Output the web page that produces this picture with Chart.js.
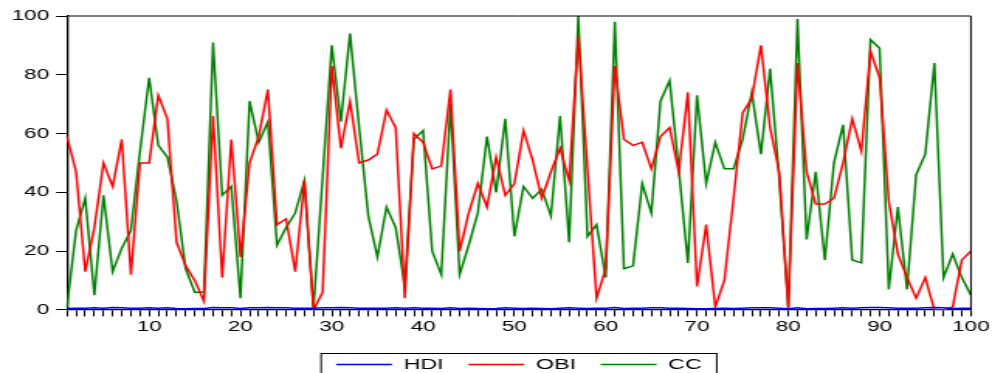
<!DOCTYPE html>
<html>
<head>
<meta charset="utf-8">
<script src="https://cdn.jsdelivr.net/npm/chart.js@4.4.1/dist/chart.umd.min.js"></script>
<style>
  html, body { margin: 0; padding: 0; background: #fff; }
</style>
</head>
<body>
<!-- drawn narrow, then stretched wide like the original export -->
<canvas id="myChart" width="640" height="373" style="width:992px;height:373px;display:block"></canvas>
<script>
var x_data = ['1','2','3','4','5','6','7','8','9','10','11','12','13','14','15','16','17','18','19','20',
  '21','22','23','24','25','26','27','28','29','30','31','32','33','34','35','36','37','38','39','40',
  '41','42','43','44','45','46','47','48','49','50','51','52','53','54','55','56','57','58','59','60',
  '61','62','63','64','65','66','67','68','69','70','71','72','73','74','75','76','77','78','79','80',
  '81','82','83','84','85','86','87','88','89','90','91','92','93','94','95','96','97','98','99','100'];
var x_ticks = ['10','20','30','40','50','60','70','80','90','100'];
var y_ticks = [0, 20, 40, 60, 80, 100];

var hdi = [0.5,0.6,0.6,0.7,0.6,0.8,0.7,0.6,0.6,0.7,
  0.6,0.7,0.5,0.4,0.5,0.5,0.8,0.7,0.7,0.5,
  0.7,0.7,0.8,0.7,0.7,0.6,0.6,0.6,0.7,0.7,
  0.8,0.7,0.6,0.6,0.6,0.6,0.7,0.6,0.7,0.6,
  0.6,0.5,0.7,0.5,0.6,0.5,0.4,0.5,0.7,0.6,
  0.5,0.6,0.5,0.4,0.6,0.7,0.6,0.5,0.6,0.6,
  0.8,0.5,0.6,0.6,0.7,0.7,0.6,0.6,0.5,0.4,
  0.4,0.5,0.6,0.5,0.6,0.7,0.7,0.7,0.6,0.4,
  0.7,0.4,0.5,0.5,0.6,0.7,0.6,0.7,0.8,0.8,
  0.7,0.6,0.6,0.6,0.7,0.8,0.7,0.5,0.6,0.6];
var obi = [59,47,13,28,50,42,58,12,50,50,
  73,65,23,15,10,3,66,11,58,18,
  50,59,75,29,31,13,44,0,6,83,
  55,71,50,51,53,68,62,4,60,57,
  48,49,75,20,33,43,35,52,39,43,
  61,51,38,47,55,44,93,48,4,14,
  83,58,56,57,48,59,62,47,74,8,
  29,1,10,38,67,72,90,62,47,0.6,
  84,47,36,36,38,50,65,54,88,79,
  37,19,11,4,11,0,0,1,17,20];
var cc = [1,27,38,5,39,13,21,27,54,79,
  56,52,37,14,6,6,91,39,42,4,
  71,57,64,22,28,33,44,0.5,45,90,
  64,94,62,32,18,35,28,8,58,61,
  20,12,70,12,22,33,59,40,65,25,
  42,38,41,32,66,23,100,25,29,11,
  98,14,15,43,33,71,78,48,16,73,
  43,57,48,48,58,74,53,82,45,0.8,
  99,24,47,17,50,63,17,16,92,89,
  7,35,7,46,53,84,11,19,11,5];

var fontFamily = "'Liberation Sans', Arial, sans-serif";

// top/right frame of the plot and the box round the legend
var framePlugin = {
  id: 'frame',
  afterDraw: function(chart) {
    var ctx = chart.ctx;
    var a = chart.chartArea;
    ctx.save();
    ctx.strokeStyle = '#000';
    ctx.lineWidth = 1;
    ctx.beginPath();
    ctx.moveTo(a.left, a.top);
    ctx.lineTo(a.right, a.top);
    ctx.lineTo(a.right, a.bottom);
    ctx.stroke();
    var boxes = chart.legend.legendHitBoxes;
    if (boxes && boxes.length) {
      var first = boxes[0], last = boxes[boxes.length - 1];
      var l = first.left - 9.7;
      var r = last.left + last.width + 9.7;
      var mid = first.top + first.height / 2;
      ctx.strokeRect(l, mid - 11, r - l, 40);
    }
    ctx.restore();
  }
};

const data = {
  labels: x_data,
  datasets: [
    { label: 'HDI', data: hdi, borderColor: '#0000ff', backgroundColor: '#0000ff' },
    { label: 'OBI', data: obi, borderColor: '#ff0000', backgroundColor: '#ff0000' },
    { label: 'CC', data: cc, borderColor: '#008000', backgroundColor: '#008000' }
  ]
};

const config = {
  type: 'line',
  data: data,
  options: {
    responsive: false,
    animation: false,
    elements: {
      line: { borderWidth: 1.5, tension: 0 },
      point: { radius: 0 }
    },
    layout: { padding: { left: 3, right: 13.5, top: 16, bottom: -9 } },
    plugins: {
      tooltip: { enabled: false },
      legend: {
        position: 'bottom',
        fullSize: false,
        title: { display: true, text: '', font: { size: 3.5 }, padding: 0 },
        labels: {
          boxWidth: 36,
          boxHeight: 0,
          padding: 16,
          color: '#000',
          font: { family: fontFamily, size: 15 }
        }
      }
    },
    scales: {
      x: {
        offset: false,
        border: { color: '#000', width: 1.3 },
        grid: { drawOnChartArea: false, drawTicks: true, tickLength: 6.5, color: '#000' },
        ticks: {
          autoSkip: false,
          maxRotation: 0,
          padding: 1.5,
          color: '#000',
          font: { family: fontFamily, size: 14.5 },
          callback: function(val, idx) {
            var lab = x_data[idx];
            return x_ticks.indexOf(lab) >= 0 ? lab : '';
          }
        }
      },
      y: {
        min: y_ticks[0],
        max: y_ticks[y_ticks.length - 1],
        border: { color: '#000', width: 1.3 },
        grid: { drawOnChartArea: false, drawTicks: true, tickLength: 7, color: '#000' },
        ticks: {
          stepSize: y_ticks[1] - y_ticks[0],
          padding: 4.5,
          color: '#000',
          font: { family: fontFamily, size: 14.5 }
        }
      }
    }
  },
  plugins: [framePlugin]
};

const myChart = new Chart(document.getElementById('myChart'), config);
</script>
</body>
</html>
